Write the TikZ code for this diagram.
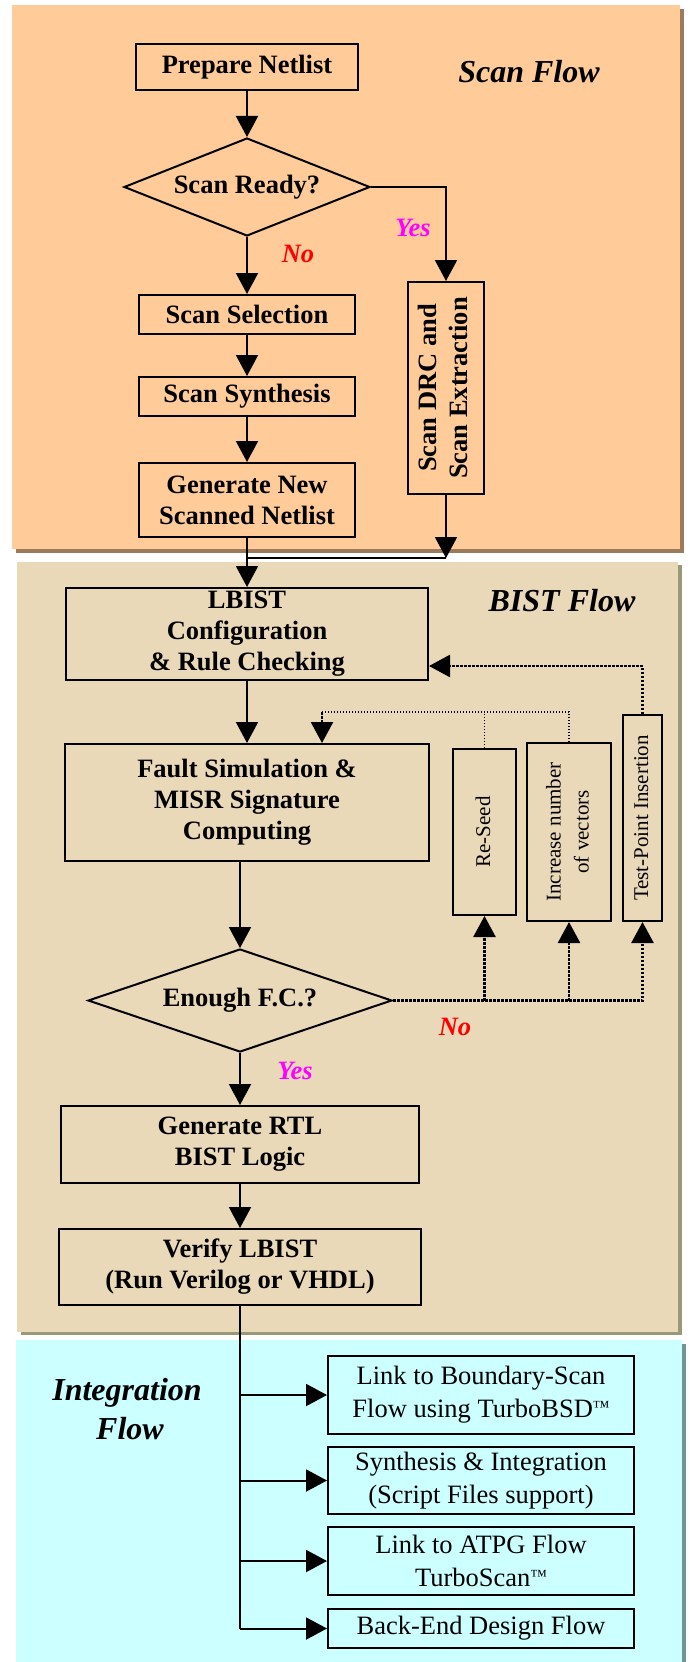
\documentclass[tikz,border=0pt]{standalone}
\usepackage{fontspec}
\setmainfont{Liberation Serif}
\usetikzlibrary{arrows.meta,shapes.geometric,positioning}

\definecolor{scanbg}{HTML}{FFCC99}
\definecolor{scanshadow}{HTML}{9C7B5C}
\definecolor{bistbg}{HTML}{EAD9B9}
\definecolor{bistshadow}{HTML}{999977}
\definecolor{intbg}{HTML}{CCFFFF}
\definecolor{intshadow}{HTML}{6F9696}
\definecolor{yescol}{HTML}{FF00FF}
\definecolor{nocol}{HTML}{FF0000}

\newcommand{\vlabel}[1]{\rotatebox{90}{\begin{tabular}{@{}c@{}}#1\end{tabular}}}
\newcommand{\tmark}{\raisebox{5pt}{\fontsize{17}{17}\selectfont ™}}

\tikzset{
	box/.style={draw, line width=2pt, align=center, inner sep=0pt, font=\fontsize{26.5}{31}\selectfont\bfseries},
	thinbox/.style={draw, line width=2pt, align=center, inner sep=0pt, font=\fontsize{26.5}{33}\selectfont},
	sidebox/.style={draw, line width=2pt, inner sep=0pt, font=\fontsize{21}{28}\selectfont},
	decision/.style={diamond, draw, line width=2pt, inner sep=0pt, font=\fontsize{26.5}{31}\selectfont\bfseries},
	flow/.style={line width=2pt, -{Triangle[width=22pt,length=21pt]}},
	retry/.style={flow, line width=2.5pt, dash pattern=on 2.5pt off 1.5pt},
	hint/.style={line width=1.2pt, dash pattern=on 1.2pt off 1.8pt},
	title/.style={font=\fontsize{32}{39}\selectfont\bfseries\itshape, anchor=base},
	answer/.style={font=\fontsize{26.5}{31}\selectfont\bfseries\itshape, anchor=base},
}

\begin{document}
\begin{tikzpicture}[x=1pt, y=-1pt]
	\useasboundingbox (0,0) rectangle (690,1662);
	% panels
	\fill[scanshadow] (16,9) rectangle (684,553);
	\fill[scanbg] (12,5) rectangle (680,549);
	\fill[bistshadow] (21,565) rectangle (682,1335);
	\fill[bistbg] (17,562) rectangle (678,1332);
	\fill[intshadow] (20,1344) rectangle (686,1662);
	\fill[intbg] (16,1340) rectangle (682,1662);

	\node[title] (scantitle) at (529,82) {Scan Flow};
	\node[title] (bisttitle) at (562,611) {BIST Flow};
	\node[title] (inttitle) at (127,1400) {Integration};
	\node[title] (inttitleb) at (130,1439) {Flow};

	% scan flow
	\node[box, minimum width=222pt, minimum height=45pt] (prep) at (247,67) {Prepare Netlist};
	\node[decision, aspect=2.5, minimum width=246pt, minimum height=98pt] (ready) at (247,187) {Scan Ready?};
	\node[box, minimum width=216pt, minimum height=39pt] (sel) at (247,314.5) {Scan Selection};
	\node[box, minimum width=216pt, minimum height=39pt] (syn) at (247,396.5) {Scan Synthesis};
	\node[box, minimum width=216pt, minimum height=74pt] (gen) at (247,500) {Generate New\\Scanned Netlist};
	\node[box, minimum width=76pt, minimum height=212pt] (drc) at (446,388) {\vlabel{Scan DRC and\\Scan Extraction}};
	\node[answer, text=yescol] (yesa) at (413,236) {Yes};
	\node[answer, text=nocol] (noa) at (298,262.5) {No};

	\draw[flow] (prep) -- (ready);
	\draw[flow] (ready) -- (sel);
	\draw[flow] (sel) -- (syn);
	\draw[flow] (syn) -- (gen);
	\draw[flow] (ready.east) -| (drc.north);
	\coordinate (drcjoin) at (446,558);
	\draw[flow] (drc.south) -- (drcjoin);
	\draw[line width=2pt] (drcjoin) -- (drcjoin -| gen.south);

	% bist flow
	\node[box, minimum width=362pt, minimum height=92pt] (lbist) at (247,634) {LBIST\\Configuration\\\& Rule Checking};
	\node[box, minimum width=364pt, minimum height=117pt] (fault) at (247,802.5) {Fault Simulation \&\\MISR Signature\\Computing};
	\node[sidebox, minimum width=63pt, minimum height=166pt] (reseed) at (484.5,832) {\vlabel{Re-Seed}};
	\node[sidebox, minimum width=84pt, minimum height=178pt] (incr) at (569,832) {\vlabel{Increase number\\of vectors}};
	\node[sidebox, minimum width=39pt, minimum height=206pt] (tpi) at (642.5,818) {\vlabel{Test-Point Insertion}};
	\node[decision, aspect=3, minimum width=304pt, minimum height=103pt] (fc) at (240,1000.5) {Enough F.C.?};
	\node[box, minimum width=358pt, minimum height=77pt] (rtl) at (240,1144.5) {Generate RTL\\BIST Logic};
	\node[box, minimum width=362pt, minimum height=76pt] (verify) at (240,1267) {Verify LBIST\\(Run Verilog or VHDL)};
	\node[answer, text=nocol] (nob) at (455,1035) {No};
	\node[answer, text=yescol] (yesb) at (295,1079) {Yes};

	\draw[flow] (gen.south) -- (lbist.north);
	\draw[flow] (lbist) -- (fault);
	\draw[flow] (fault.south -| fc.north) -- (fc.north);
	\draw[flow] (fc) -- (rtl);
	\draw[flow] (rtl) -- (verify);

	\coordinate (fbtop) at (322,712);
	\draw[hint] (incr.north) |- (fbtop);
	\draw[hint] (reseed.north) -- (reseed.north |- fbtop);
	\draw[retry] (fbtop) -- (fbtop |- fault.north);
	\draw[retry] (tpi.north) |- (lbist.east |- 0,666);
	\draw[retry] (fc.east) -| (tpi.south);
	\draw[retry] (reseed.south |- fc.east) -- (reseed.south);
	\draw[retry] (incr.south |- fc.east) -- (incr.south);

	% integration flow
	\node[thinbox, minimum width=306pt, minimum height=78pt] (bsd) at (481,1395) {Link to Boundary-Scan\\Flow using TurboBSD\tmark};
	\node[thinbox, minimum width=306pt, minimum height=67pt] (synth) at (481,1480.5) {Synthesis \& Integration\\(Script Files support)};
	\node[thinbox, minimum width=306pt, minimum height=68pt] (atpg) at (481,1561) {Link to ATPG Flow\\TurboScan\tmark};
	\node[thinbox, minimum width=306pt, minimum height=39pt] (backend) at (481,1628.5) {Back-End Design Flow};

	\draw[line width=2pt] (verify.south) -- (verify.south |- backend.west);
	\foreach \n in {bsd,synth,atpg,backend}
	{
	\draw[flow] (verify.south |- \n.west) -- (\n.west);
	}
\end{tikzpicture}
\end{document}
